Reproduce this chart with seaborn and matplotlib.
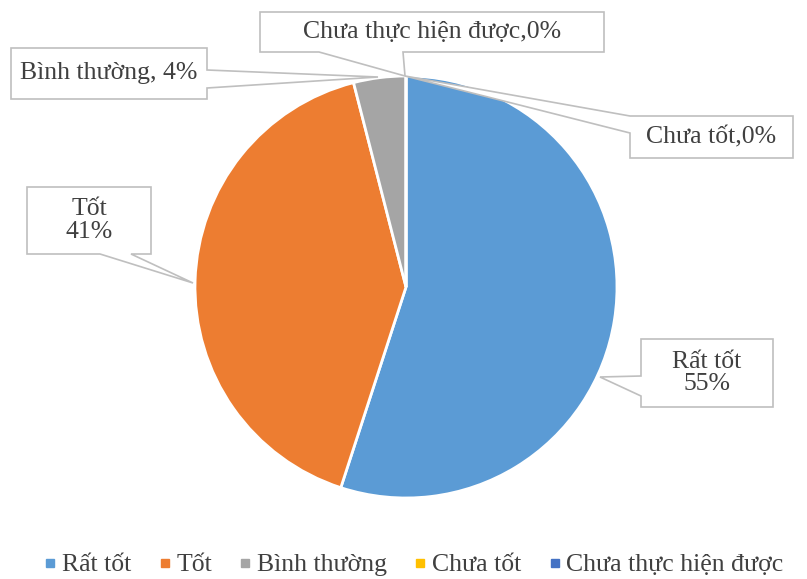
import matplotlib
matplotlib.use("Agg")
import matplotlib.pyplot as plt
from matplotlib.lines import Line2D
from matplotlib.patches import Polygon
import seaborn as sns

labels = ["Rất tốt", "Tốt", "Bình thường", "Chưa tốt", "Chưa thực hiện được"]
values = [55, 41, 4, 0, 0]
colors = ["#5B9BD5", "#ED7D31", "#A5A5A5", "#FFC000", "#4472C4"]
callout_texts = ["Rất tốt\n55%", "Tốt\n41%", "Bình thường, 4%", "Chưa tốt,0%", "Chưa thực hiện được,0%"]

W, H = 807, 579
CX, CY, R = 406, 287, 211  # pie centre / radius in pixels
TEXT_COLOR = "#404040"
BORDER = "#BFBFBF"


def px(x, y):
    return ((x - CX) / R, (CY - y) / R)


def callout(ax, box, side, a, b, apex, text):
    x0, y0, x1, y1 = box
    if side == "top":
        pts = [(x0, y0), (a, y0), apex, (b, y0), (x1, y0), (x1, y1), (x0, y1)]
    elif side == "right":
        pts = [(x0, y0), (x1, y0), (x1, a), apex, (x1, b), (x1, y1), (x0, y1)]
    elif side == "bottom":
        pts = [(x0, y0), (x1, y0), (x1, y1), (b, y1), apex, (a, y1), (x0, y1)]
    else:
        pts = [(x0, y0), (x1, y0), (x1, y1), (x0, y1), (x0, b), apex, (x0, a)]
    poly = Polygon([px(*p) for p in pts], closed=True, facecolor="white",
                   edgecolor=BORDER, linewidth=1.2, zorder=5)
    ax.add_patch(poly)
    tx, ty = px((x0 + x1) / 2, (y0 + y1) / 2)
    ax.text(tx, ty, text, ha="center", va="center", fontsize=18.5,
            color=TEXT_COLOR, linespacing=1.05, zorder=6)


sns.set_theme(style="white")
plt.rcParams["font.family"] = ["Liberation Serif", "DejaVu Serif"]

fig = plt.figure(figsize=(W / 100, H / 100), dpi=100)
ax = fig.add_axes([0, 0, 1, 1])
ax.pie(values, colors=colors, startangle=90, counterclock=False, radius=1,
       wedgeprops={"edgecolor": "white", "linewidth": 2})
ax.set_xlim(-CX / R, (W - CX) / R)
ax.set_ylim(-(H - CY) / R, CY / R)
ax.set_aspect("equal")
ax.axis("off")

# callout layout: box (px), pointer side, base range, apex
layout = [
    ((641, 339, 773, 407), "left", 376, 396, (600, 377)),
    ((27, 187, 151, 254), "bottom", 100, 131, (193, 283)),
    ((11, 48, 207, 99), "right", 70, 88, (378, 77)),
    ((630, 116, 793, 158), "left", 116, 133, (405, 76)),
    ((260, 12, 604, 52), "bottom", 319, 403, (405, 76)),
]
for text, (box, side, a, b, apex) in zip(callout_texts, layout):
    callout(ax, box, side, a, b, apex, text)

handles = [Line2D([], [], marker="s", linestyle="", markersize=6,
                  markerfacecolor=c, markeredgecolor=c) for c in colors]
fig.legend(handles, labels, loc="center", bbox_to_anchor=(413 / W, 14 / H), ncol=5,
           frameon=False, fontsize=18.5, handletextpad=0.15, columnspacing=1.0,
           labelcolor=TEXT_COLOR, handlelength=0.6)

fig.savefig("out.png", dpi=100)
